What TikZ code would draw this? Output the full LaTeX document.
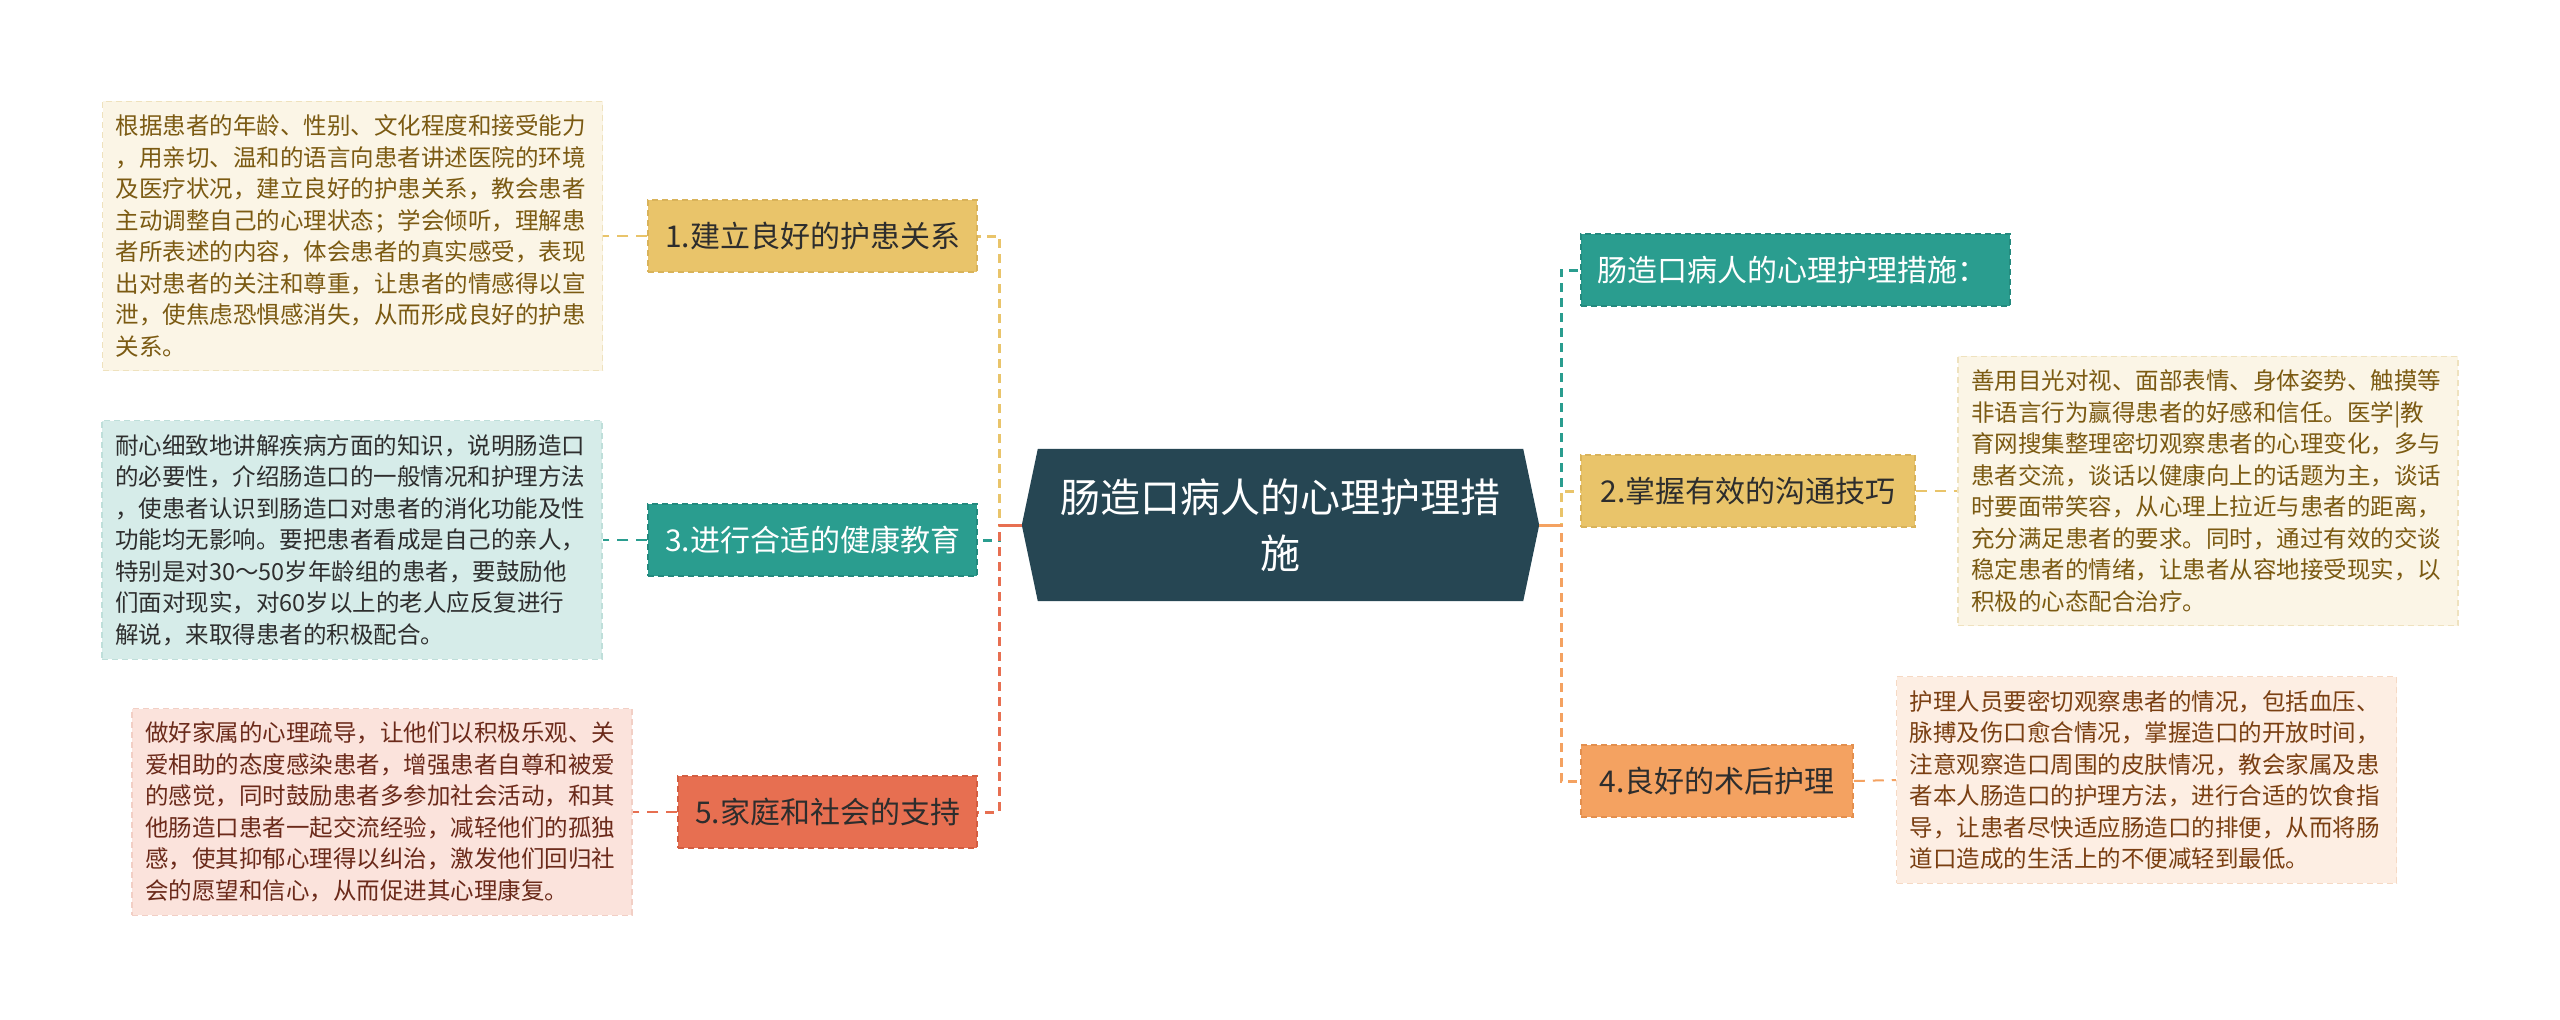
\documentclass[tikz,border=0pt]{standalone}
\usepackage{fontspec}
\setmainfont{Noto Sans CJK SC}
\usetikzlibrary{backgrounds}
\definecolor{cdark}{HTML}{264653}
\definecolor{cteal}{HTML}{2A9D8F}
\definecolor{cyel}{HTML}{E9C46A}
\definecolor{corg}{HTML}{F4A261}
\definecolor{cred}{HTML}{E76F51}
\definecolor{dteal}{HTML}{238A7E}
\definecolor{dyel}{HTML}{D9B35A}
\definecolor{dorg}{HTML}{E38F4E}
\definecolor{dred}{HTML}{D45E41}
\definecolor{fcream}{HTML}{FBF5E6}
\definecolor{bcream}{HTML}{EFE2BE}
\definecolor{tcream}{HTML}{7B5A12}
\definecolor{fteal}{HTML}{D6ECE9}
\definecolor{bteal}{HTML}{BFDFDA}
\definecolor{tteal}{HTML}{2E2E2E}
\definecolor{fpink}{HTML}{FBE3DC}
\definecolor{bpink}{HTML}{F2CFC5}
\definecolor{tpink}{HTML}{6B2A1A}
\definecolor{fpeach}{HTML}{FDEEE3}
\definecolor{bpeach}{HTML}{F6D9C4}
\definecolor{tpeach}{HTML}{7A3F12}
\definecolor{tdark}{HTML}{2D2D2D}
\begin{document}
\begin{tikzpicture}[x=1pt,y=-1pt,
  branchbox/.style={rectangle, minimum height=72pt, inner xsep=16pt, inner ysep=0pt,
    font=\fontsize{30}{36}\selectfont, dash pattern=on 6pt off 4pt, line width=1.5pt},
  textbox/.style={rectangle, inner xsep=13pt, inner ysep=13.5pt, text width=474pt, align=left,
    font=\fontsize{23.5}{31.5}\selectfont, dash pattern=on 6pt off 4pt, line width=1.2pt},
  edge/.style={line width=3pt, dash pattern=on 9pt off 6pt},
  tconn/.style={line width=2pt, dash pattern=on 11pt off 8pt}
]
\useasboundingbox (0,0) rectangle (2560,1020);

% centre
\node[rectangle, minimum width=517pt, minimum height=152pt, inner sep=0pt, align=center,
  text=white, font=\fontsize{40}{56}\selectfont] (c) at (1280.5,525)
  {肠造口病人的心理护理措\\施};
\begin{scope}[on background layer]
\fill[white] (0,0) rectangle (2560,1020);
\fill[cdark] (c.west) -- ([xshift=16pt]c.north west) -- ([xshift=-16pt]c.north east)
  -- (c.east) -- ([xshift=-16pt]c.south east) -- ([xshift=16pt]c.south west) -- cycle;
\end{scope}

% left branch boxes
\node[branchbox, minimum width=329pt, fill=cyel, draw=dyel, text=tdark] (b1) at (812.5,236) {1.建立良好的护患关系};
\node[branchbox, minimum width=329pt, fill=cteal, draw=dteal, text=white] (b3) at (812.5,540) {3.进行合适的健康教育};
\node[branchbox, minimum width=299pt, fill=cred, draw=dred, text=tdark] (b5) at (827.5,812) {5.家庭和社会的支持};

% right branch boxes
\node[branchbox, minimum width=429pt, fill=cteal, draw=dteal, text=white, text width=397pt, align=left] (b0) at (1795.5,270) {肠造口病人的心理护理措施：};
\node[branchbox, minimum width=334pt, fill=cyel, draw=dyel, text=tdark] (b2) at (1748,491) {2.掌握有效的沟通技巧};
\node[branchbox, minimum width=272pt, fill=corg, draw=dorg, text=tdark] (b4) at (1717,781) {4.良好的术后护理};

% text boxes
\node[textbox, fill=fcream, draw=bcream, text=tcream] (t1) at (352.5,236) {根据患者的年龄、性别、文化程度和接受能力\\，用亲切、温和的语言向患者讲述医院的环境\\及医疗状况，建立良好的护患关系，教会患者\\主动调整自己的心理状态；学会倾听，理解患\\者所表述的内容，体会患者的真实感受，表现\\出对患者的关注和尊重，让患者的情感得以宣\\泄，使焦虑恐惧感消失，从而形成良好的护患\\关系。};
\node[textbox, fill=fteal, draw=bteal, text=tteal] (t3) at (352,540) {耐心细致地讲解疾病方面的知识，说明肠造口\\的必要性，介绍肠造口的一般情况和护理方法\\，使患者认识到肠造口对患者的消化功能及性\\功能均无影响。要把患者看成是自己的亲人，\\特别是对30～50岁年龄组的患者，要鼓励他\\们面对现实，对60岁以上的老人应反复进行\\解说，来取得患者的积极配合。};
\node[textbox, fill=fpink, draw=bpink, text=tpink] (t5) at (382,812) {做好家属的心理疏导，让他们以积极乐观、关\\爱相助的态度感染患者，增强患者自尊和被爱\\的感觉，同时鼓励患者多参加社会活动，和其\\他肠造口患者一起交流经验，减轻他们的孤独\\感，使其抑郁心理得以纠治，激发他们回归社\\会的愿望和信心，从而促进其心理康复。};
\node[textbox, fill=fcream, draw=bcream, text=tcream] (t2) at (2208,491) {善用目光对视、面部表情、身体姿势、触摸等\\非语言行为赢得患者的好感和信任。医学|教\\育网搜集整理密切观察患者的心理变化，多与\\患者交流，谈话以健康向上的话题为主，谈话\\时要面带笑容，从心理上拉近与患者的距离，\\充分满足患者的要求。同时，通过有效的交谈\\稳定患者的情绪，让患者从容地接受现实，以\\积极的心态配合治疗。};
\node[textbox, fill=fpeach, draw=bpeach, text=tpeach] (t4) at (2146.5,780) {护理人员要密切观察患者的情况，包括血压、\\脉搏及伤口愈合情况，掌握造口的开放时间，\\注意观察造口周围的皮肤情况，教会家属及患\\者本人肠造口的护理方法，进行合适的饮食指\\导，让患者尽快适应肠造口的排便，从而将肠\\道口造成的生活上的不便减轻到最低。};

% spines
\coordinate (sl) at (999,525);
\coordinate (sr) at (1561,525);

% left edges
\draw[edge, cyel] (c.west) -- (sl) |- (b1.east);
\draw[edge, cteal] (c.west) -- (sl) |- (b3.east);
\draw[edge, cred] (c.west) -- (sl) |- (b5.east);
\draw[cred, line width=3pt] (c.west) -- (sl);

% right edges
\draw[edge, cteal] (c.east) -- (sr) |- (b0.west);
\draw[edge, cyel] (c.east) -- (sr) |- (b2.west);
\draw[edge, corg] (c.east) -- (sr) |- (b4.west);
\draw[corg, line width=3pt] (c.east) -- (sr);

% branch to text connectors
\draw[tconn, cyel] (b1.west) -- (t1.east);
\draw[tconn, cteal] (b3.west) -- (t3.east);
\draw[tconn, cred] (b5.west) -- (t5.east);
\draw[tconn, cyel] (b2.east) -- (t2.west);
\draw[tconn, corg] (b4.east) -- (t4.west);
\end{tikzpicture}
\end{document}
